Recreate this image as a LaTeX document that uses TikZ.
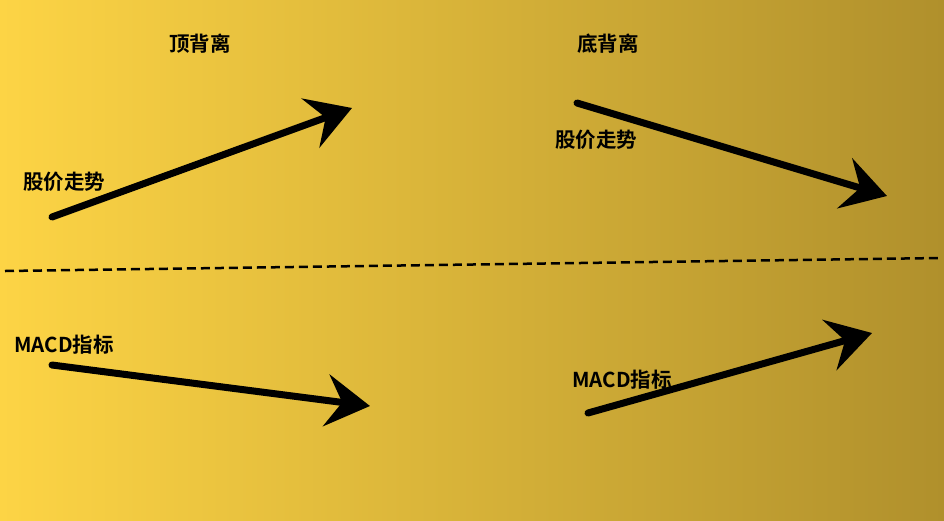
\documentclass[tikz,border=0pt]{standalone}
\usepackage{fontspec}
\newfontfamily\cjk{Noto Sans CJK SC}[BoldFont={Noto Sans CJK SC Bold}]
\usetikzlibrary{arrows.meta}
\begin{document}
\begin{tikzpicture}[x=1pt,y=-1pt,
  lbl/.style={font=\cjk\bfseries\fontsize{20.5}{22}\selectfont,text=black},
  bigarrow/.style={line width=7pt,line cap=round,-{Stealth[length=44pt,width=52pt,inset=16pt]}}]
\shade[left color={rgb,255:red,253;green,212;blue,69},right color={rgb,255:red,176;green,144;blue,44}] (0,0) rectangle (944,520);
\useasboundingbox (0,0) rectangle (944,520);
\coordinate (a1) at (52,217); \coordinate (b1) at (352,108);
\coordinate (a2) at (577,103); \coordinate (b2) at (887,196);
\coordinate (a3) at (52,365); \coordinate (b3) at (370,406);
\coordinate (a4) at (588,413); \coordinate (b4) at (872,333);
\coordinate (d1) at (5,271); \coordinate (d2) at (940,258);
\draw[bigarrow] (a1) -- (b1);
\draw[bigarrow] (a2) -- (b2);
\draw[bigarrow] (a3) -- (b3);
\draw[bigarrow] (a4) -- (b4);
\draw[line width=2.5pt,dash pattern=on 9pt off 5pt] (d1) -- (d2);
\node[lbl] (t1) at (200,44) {顶背离};
\node[lbl] (t2) at (608,44) {底背离};
\node[lbl] (p1) at (64,182) {股价走势};
\node[lbl] (p2) at (596,140) {股价走势};
\node[lbl] (m1) at (64,345) {MACD指标};
\node[lbl] (m2) at (622,380) {MACD指标};
\end{tikzpicture}
\end{document}
